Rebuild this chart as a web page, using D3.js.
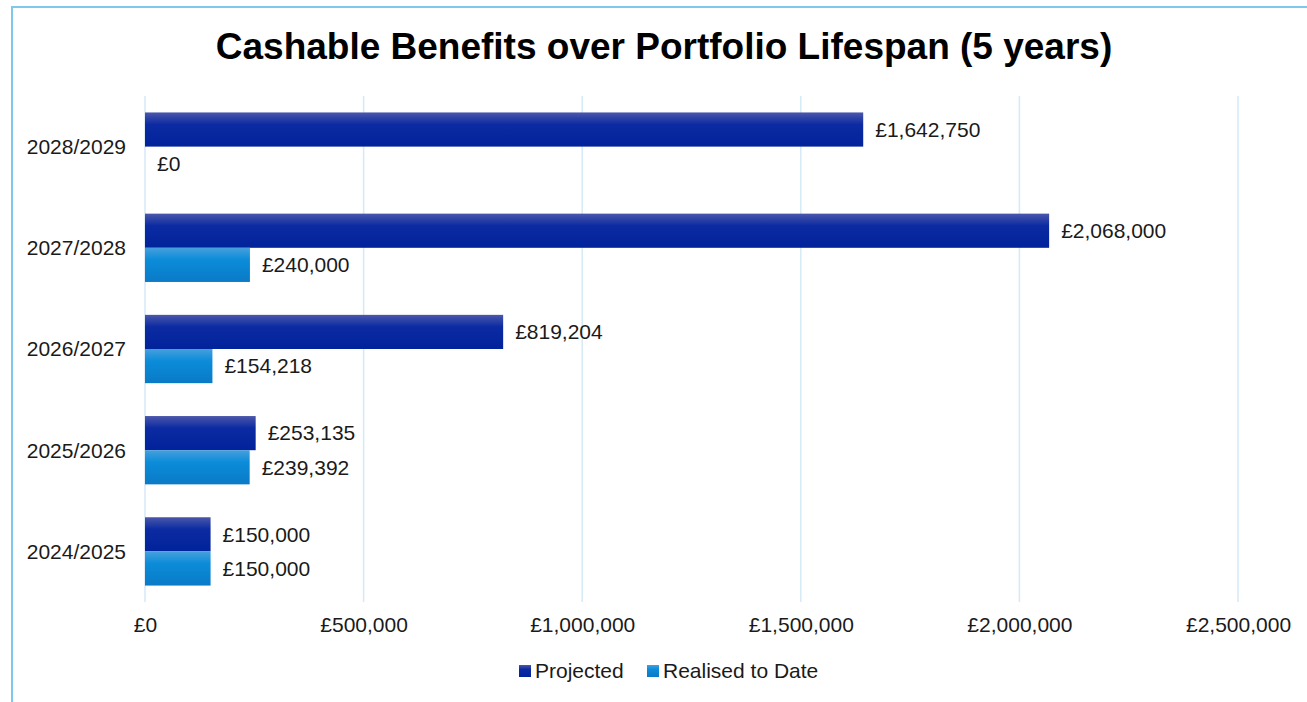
<!DOCTYPE html>
<html>
<head>
<meta charset="utf-8">
<script src="https://cdn.jsdelivr.net/npm/d3@7"></script>
<style>
  html, body { margin: 0; padding: 0; background: #fff; }
  svg { display: block; font-family: "Liberation Sans", Arial, sans-serif; }
</style>
</head>
<body>
<svg id="chart" width="1307" height="702"></svg>
<script>
// Financial years, bottom to top as listed
const years = ["2024/2025", "2025/2026", "2026/2027", "2027/2028", "2028/2029"];
const projected = [150000, 253135, 819204, 2068000, 1642750];
const realised = [150000, 239392, 154218, 240000, 0];
const seriesNames = ["Projected", "Realised to Date"];
const xTicks = [0, 500000, 1000000, 1500000, 2000000, 2500000];

const W = 1307, H = 702;
const FS = 21;
const svg = d3.select("#chart");

const fmt = v => "£" + d3.format(",")(v);

// Frame (left and top edges visible)
svg.append("rect")
  .attr("x", 12).attr("y", 7)
  .attr("width", W + 20).attr("height", H + 20)
  .attr("fill", "#fff")
  .attr("stroke", "#7dc8ec").attr("stroke-width", 2);

// Gradients for the two series
const defs = svg.append("defs");
function grad(id, stops) {
  const g = defs.append("linearGradient").attr("id", id)
    .attr("x1", 0).attr("y1", 0).attr("x2", 0).attr("y2", 1);
  stops.forEach(([o, c]) => g.append("stop").attr("offset", o).attr("stop-color", c));
}
grad("gProj", [["0%", "#4b57ab"], ["35%", "#0c2ba2"], ["100%", "#00229a"]]);
grad("gReal", [["0%", "#46a0dc"], ["35%", "#0b8cd9"], ["100%", "#0a7ac6"]]);
const fills = ["url(#gProj)", "url(#gReal)"];

// Scales
const x = d3.scaleLinear().domain([0, 2500000]).range([145, 1238]);
const y = d3.scaleBand().domain(years.slice().reverse()).range([96, 602])
  .paddingInner(0.325).paddingOuter(0.1625);
const sub = d3.scaleBand().domain([0, 1]).range([0, y.bandwidth()]);

// Title
svg.append("text")
  .attr("x", 664).attr("y", 59)
  .attr("text-anchor", "middle")
  .attr("font-size", 37).attr("font-weight", "bold")
  .attr("fill", "#000")
  .text("Cashable Benefits over Portfolio Lifespan (5 years)");

// Vertical gridlines
svg.append("g").selectAll("line").data(xTicks).join("line")
  .attr("x1", d => x(d)).attr("x2", d => x(d))
  .attr("y1", 96).attr("y2", 602)
  .attr("stroke", "#d5e9f7").attr("stroke-width", 1.5);

// X axis labels
const xAxis = d3.axisBottom(x).tickValues(xTicks).tickFormat(fmt).tickSize(0).tickPadding(0);
const gx = svg.append("g").attr("transform", "translate(0,617)").call(xAxis);
gx.select(".domain").remove();
gx.selectAll("text").attr("font-size", FS).attr("fill", "#1a1a1a")
  .attr("font-family", "Liberation Sans, Arial, sans-serif").attr("dy", "0.71em");

// Y axis labels
const yAxis = d3.axisLeft(y).tickSize(0).tickPadding(0);
const gy = svg.append("g").attr("transform", "translate(126,0)").call(yAxis);
gy.select(".domain").remove();
gy.selectAll("text").attr("font-size", FS).attr("fill", "#1a1a1a")
  .attr("font-family", "Liberation Sans, Arial, sans-serif").attr("dy", "0.35em");

// Bars and value labels
const rows = years.map((yr, i) => ({ yr, vals: [projected[i], realised[i]] }));
const grp = svg.append("g").selectAll("g").data(rows).join("g")
  .attr("transform", d => `translate(0,${y(d.yr)})`);

grp.selectAll("rect").data(d => d.vals).join("rect")
  .attr("x", x(0))
  .attr("y", (d, j) => sub(j))
  .attr("width", d => x(d) - x(0))
  .attr("height", sub.bandwidth())
  .attr("fill", (d, j) => fills[j]);

grp.selectAll("text").data(d => d.vals).join("text")
  .attr("x", d => x(d) + 12)
  .attr("y", (d, j) => sub(j) + sub.bandwidth() / 2)
  .attr("dy", "0.35em")
  .attr("font-size", FS).attr("fill", "#1a1a1a")
  .text(d => fmt(d));

// Legend
const legendItems = [
  { name: seriesNames[0], fill: fills[0], sx: 519, tx: 535 },
  { name: seriesNames[1], fill: fills[1], sx: 647, tx: 663 }
];
const lg = svg.append("g").selectAll("g").data(legendItems).join("g");
lg.append("rect")
  .attr("x", d => d.sx).attr("y", 665)
  .attr("width", 12).attr("height", 12)
  .attr("fill", d => d.fill);
lg.append("text")
  .attr("x", d => d.tx).attr("y", 678)
  .attr("font-size", FS).attr("fill", "#1a1a1a")
  .text(d => d.name);
</script>
</body>
</html>
